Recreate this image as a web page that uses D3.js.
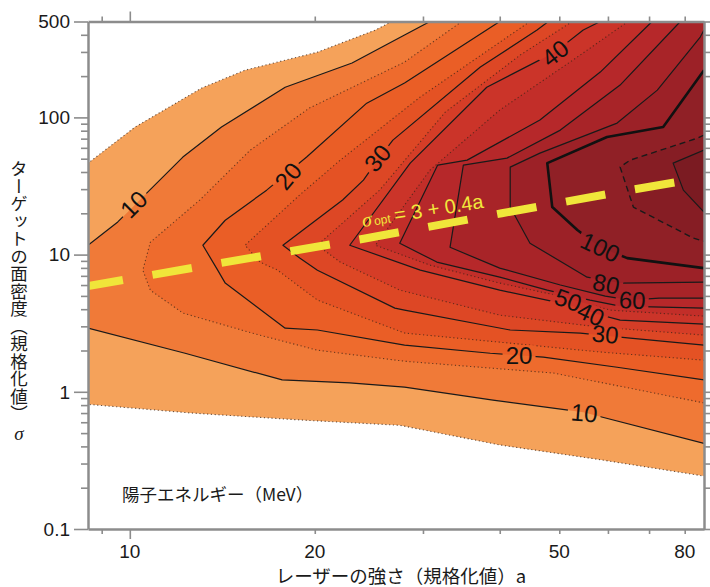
<!DOCTYPE html>
<html>
<head>
<meta charset="utf-8">
<script src="https://cdn.jsdelivr.net/npm/d3@7"></script>
<style>
  body { margin: 0; background: #fff; }
  svg { display: block; font-family: "Liberation Sans", Arial, sans-serif; }
  .jp { font-family: "Noto Sans CJK JP", sans-serif; }
  .axis .domain { stroke: #8c8c8c; stroke-width: 2.5; }
  .axis .tick line { stroke: #8c8c8c; stroke-width: 1.6; }
</style>
</head>
<body>
<svg width="710" height="587"></svg>
<script>
// proton energy contours (MeV), each line as [a, sigma] points
const levels = [5, 10, 15, 20, 25, 30, 35, 40, 45, 50, 60, 80, 100, 120, 140];

const c5 = [[26.7,500],[25.1,433],[20.2,299],[15.4,221],[13.1,164],[10.2,85],[8.55,46.4],
  [8.55,0.81],[12.6,0.70],[19.3,0.62],[27.5,0.57],[40.0,0.41],[58.3,0.32],[86,0.243]];
const c10 = [[30.8,500],[28.0,398],[23.0,249],[17.9,166],[14.1,85],[12.2,51.4],[9.56,17.3],[8.55,11.7],
  [8.55,2.91],[12.3,1.91],[17.7,1.22],[22.8,1.16],[28.0,1.08],[39.0,0.87],[54.7,0.71],[86,0.42]];
const c15 = [[34.7,500],[28.0,253],[19.6,117],[15.7,57.7],[13.0,25.0],[10.8,12.3],
  [10.5,7.7],[10.8,5.5],[12.2,3.75],[15.8,2.68],[20.2,2.01],[28.0,1.67],[48.9,1.37],[86,0.83]];
const c20 = [[40.0,500],[28.0,178],[24.3,127],[19.4,51.4],[16.7,29.5],[14.3,17.8],[13.15,11.7],
  [13.9,7.7],[14.3,6.2],[17.9,2.91],[20.2,2.82],[28.0,2.19],[38.6,1.91],[47.1,1.79],[62.1,1.51],[86,1.22]];
const c25 = [[44.8,500],[29.7,141],[22.0,48.8],[18.9,27.2],[15.4,11.7],
  [16.3,8.8],[17.4,7.7],[20.2,4.66],[28.0,2.68],[40.0,2.30],[58.3,1.95],[86,1.70]];
const c30 = [[48.0,500],[46.0,433],[37.2,233],[26.8,68.3],[25.3,48.8],[24.0,34.9],[22.2,25.0],[17.75,11.7],
  [18.9,9.43],[20.2,7.7],[27.0,4.07],[28.0,3.94],[41.6,2.82],[54.1,2.68],[65.2,2.46],[86,2.19]];
const c35 = [[52.5,500],[43.2,285],[32.6,109],[25.5,29.5],[20.2,11.7],
  [22.0,8.82],[27.5,5.51],[40.0,3.62],[58.3,2.96],[86,2.59]];
const c40 = [[58.3,500],[54.7,433],[49.2,299],[38.1,166],[28.6,46.4],[22.8,11.7],
  [29.7,7.71],[40.0,5.51],[52.1,4.28],[56.8,3.75],[62.8,3.33],[86,3.11]];
const c45 = [[64.7,500],[54.1,285],[40.0,113],[30.8,41.3],[25.1,11.7],
  [30.8,8.38],[40.0,6.20],[50.2,4.98],[60.5,3.94],[86,3.56]];
const c50 = [[70.8,500],[58.3,214],[46.5,95.6],[35.4,48.8],[31.7,44.9],[27.5,12.1],
  [31.6,8.82],[40.0,6.85],[47.8,5.51],[56.1,4.66],[62.8,4.21],[86,4.07]];
const c60 = [[78.7,500],[62.8,172],[50.2,80.8],[41.1,50.5],[34.9,44.9],[33.2,11.3],
  [40.0,7.97],[50.2,6.0],[59.4,4.98],[65.2,4.66],[72.7,4.82],[86,4.82]];
const c80 = [[86,433],[84.8,385],[72.2,158],[62.1,90.9],[46.5,54.9],[41.6,43.4],
  [41.6,22.2],[44.8,12.1],[55.5,6.85],[62.8,6.2],[86,6.3]];
const c100 = [[86,221],[73.8,85.0],[59.8,71.9],[47.8,46.4],[48.7,22.2],[53.5,15.1],[58.3,11.3],[64.5,9.43],[86,7.97]];
const c120 = [[86,74.3],[83.9,70.6],[65.2,48.8],[62.8,43.4],[66.0,22.2],[82.6,13.2],[86,12.5]];
const c140 = [[86,57.7],[76.6,46.4],[79.6,29.5],[86,20.4]];

const contourLines = [c5, c10, c15, c20, c25, c30, c35, c40, c45, c50, c60, c80, c100, c120, c140];

// contour labels
const labelText  = ["10", "20", "30", "40", "100", "80", "60", "50", "40", "30", "20", "10"];
const labelA     = [10.15, 18.1, 25.3, 49.2, 58.3, 59.6, 65.7, 51.7, 56.3, 59.4, 43.0, 54.9];
const labelSigma = [23.3, 37.3, 50.5, 294, 11.3, 6.1, 4.66, 4.66, 3.68, 2.63, 1.85, 0.70];

// optimum line sigma_opt = 3 + 0.4a, as drawn
const optA     = [8.55, 14.1, 23.9, 40.3, 60.9, 86];
const optSigma = [5.9, 8.7, 13.0, 20.0, 28.0, 36.5];

const xTickLabels = [10, 20, 50, 80];
const yTickLabels = [0.1, 1, 10, 100, 500];

// ---- drawing ----
const fillColors = ["#f5a25a", "#f07a38", "#ee6b2d", "#ea5e26", "#e45224", "#dd4725", "#d53d27",
  "#cb3429", "#c22e29", "#b6282a", "#a82428", "#9c2127", "#902026", "#861d24", "#7b1b22"];
const labelRotation = [-45, -50, -50, -38, 25, 12, 3, 20, 25, 5, 0, 5];

const W = 710, H = 587;
const svg = d3.select("svg");
const x = d3.scaleLog().domain([8.55, 86]).range([88, 704]);
const y = d3.scaleLog().domain([0.1, 500]).range([529, 21.5]);
const [xl, xr] = x.range(), [yb, yt] = y.range();

const defs = svg.append("defs");
defs.append("clipPath").attr("id", "plot")
  .append("rect").attr("x", xl).attr("y", yt).attr("width", xr - xl).attr("height", yb - yt);

const line = d3.line().x(d => x(d[0])).y(d => y(d[1]));

const plot = svg.append("g").attr("clip-path", "url(#plot)");

// filled bands, painted from the lowest level upward
contourLines.forEach((pts, i) => {
  const closed = pts[0][1] >= 500 ? pts.concat([[86, 500]]) : pts;
  plot.append("path").attr("d", line(closed) + "Z").attr("fill", fillColors[i]);
});

// gaps in the lines under the labels
const mask = defs.append("mask").attr("id", "gaps").attr("maskUnits", "userSpaceOnUse")
  .attr("x", 0).attr("y", 0).attr("width", W).attr("height", H);
mask.append("rect").attr("width", W).attr("height", H).attr("fill", "#fff");
labelText.forEach((t, i) => {
  const w = t.length * 13.5 + 6;
  mask.append("rect")
    .attr("transform", `translate(${x(labelA[i])},${y(labelSigma[i])}) rotate(${labelRotation[i]})`)
    .attr("x", -w / 2).attr("y", -10).attr("width", w).attr("height", 20).attr("fill", "#000");
});

const lines = plot.append("g").attr("mask", "url(#gaps)").attr("fill", "none");
contourLines.forEach((pts, i) => {
  const lv = levels[i];
  const p = lines.append("path").attr("d", line(pts)).attr("stroke-linejoin", "round");
  if (lv === 100) p.attr("stroke", "#111").attr("stroke-width", 2.6);
  else if (lv === 120) p.attr("stroke", "#1a1a1a").attr("stroke-width", 1.4).attr("stroke-dasharray", "6 4");
  else if (lv % 10 === 5) p.attr("stroke", "#3a2418").attr("stroke-opacity", 0.75)
    .attr("stroke-width", 1.1).attr("stroke-dasharray", "1.2 2.6");
  else p.attr("stroke", "#1a1a1a").attr("stroke-width", 1.2);
});

// optimum line
plot.append("path")
  .attr("d", line(d3.zip(optA, optSigma)))
  .attr("fill", "none").attr("stroke", "#f0e63a").attr("stroke-width", 8)
  .attr("stroke-dasharray", "40 30").attr("stroke-dashoffset", 4.6);

// contour labels
svg.append("g").selectAll("text").data(labelText).join("text")
  .attr("transform", (d, i) => `translate(${x(labelA[i])},${y(labelSigma[i])}) rotate(${labelRotation[i]})`)
  .attr("text-anchor", "middle").attr("dominant-baseline", "central")
  .attr("font-size", 24).attr("fill", "#111")
  .text(d => d);

// sigma_opt label
const opt = svg.append("text").attr("transform", "translate(363,227) rotate(-9)")
  .attr("fill", "#f2e83c").attr("font-size", 20);
opt.append("tspan").attr("font-style", "italic").attr("font-family", "Liberation Serif").text("σ");
opt.append("tspan").attr("font-size", 12).attr("dx", 2).text("opt");
opt.append("tspan").attr("dx", 4).text("= 3 + 0.4a");

// axes (frame on all four sides)
const xt = x.ticks(), yt2 = y.ticks();
const isMajor = v => Math.abs(Math.log10(v) - Math.round(Math.log10(v))) < 1e-9 || v === 500;

function styleTicks(g, horiz, sign) {
  g.selectAll(".tick line").each(function(d) {
    if (isMajor(d)) {
      const s = d3.select(this).attr("stroke-width", 3);
      if (horiz) s.attr("x2", sign * 14); else s.attr("y2", sign * 10);
    }
  });
}

svg.append("g").attr("class", "axis").attr("transform", `translate(0,${yb})`)
  .call(d3.axisBottom(x).tickValues(xt).tickSize(5).tickSizeOuter(0).tickFormat(""))
  .call(g => styleTicks(g, false, 1));
svg.append("g").attr("class", "axis").attr("transform", `translate(0,${yt})`)
  .call(d3.axisTop(x).tickValues(xt).tickSize(5).tickSizeOuter(0).tickFormat(""))
  .call(g => styleTicks(g, false, -1));
svg.append("g").attr("class", "axis").attr("transform", `translate(${xl},0)`)
  .call(d3.axisLeft(y).tickValues(yt2).tickSize(7).tickSizeOuter(0).tickFormat(""))
  .call(g => styleTicks(g, true, -1));
svg.append("g").attr("class", "axis").attr("transform", `translate(${xr},0)`)
  .call(d3.axisRight(y).tickValues(yt2).tickSize(7).tickSizeOuter(0).tickFormat(""))
  .call(g => styleTicks(g, true, 1));

// tick labels
svg.append("g").selectAll("text").data(xTickLabels).join("text")
  .attr("x", d => x(d)).attr("y", 558).attr("text-anchor", "middle")
  .attr("font-size", 19).attr("fill", "#1a1a1a").text(d => d);
svg.append("g").selectAll("text").data(yTickLabels).join("text")
  .attr("x", 70).attr("y", d => y(d)).attr("dy", "0.36em").attr("text-anchor", "end")
  .attr("font-size", 19).attr("fill", "#1a1a1a").text(d => d);

// titles
svg.append("text").attr("class", "jp")
  .attr("x", 401).attr("y", 583).attr("text-anchor", "middle")
  .attr("font-size", 18.5).attr("fill", "#1a1a1a")
  .text("レーザーの強さ（規格化値）a");
svg.append("text").attr("class", "jp")
  .attr("x", 19).attr("y", 160)
  .style("writing-mode", "vertical-rl")
  .attr("font-size", 17.5).attr("fill", "#1a1a1a")
  .text("ターゲットの面密度（規格化値）");
svg.append("text")
  .attr("x", 19).attr("y", 440).attr("text-anchor", "middle")
  .attr("font-family", "Liberation Serif").attr("font-style", "italic")
  .attr("font-size", 19).attr("fill", "#1a1a1a").text("σ");
svg.append("text").attr("class", "jp")
  .attr("x", 122).attr("y", 501)
  .attr("font-size", 17.5).attr("fill", "#1a1a1a")
  .text("陽子エネルギー（MeV）");
</script>
</body>
</html>
